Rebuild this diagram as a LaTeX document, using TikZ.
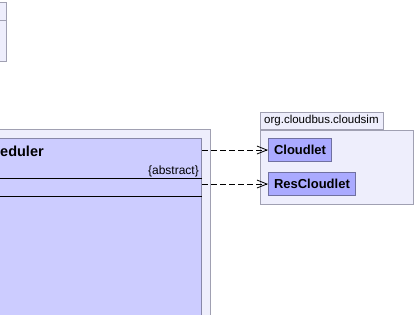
\documentclass[tikz,border=0pt]{standalone}
\usepackage{fontspec}
\setmainfont{Liberation Sans}
\usetikzlibrary{arrows.meta}

\definecolor{pkgfill}{HTML}{EEEEFC}
\definecolor{pkgline}{HTML}{A0A0B2}
\definecolor{clsfill}{HTML}{CCCCFF}
\definecolor{clsline}{HTML}{8888A8}
\definecolor{reffill}{HTML}{AAAAFF}
\definecolor{refline}{HTML}{7070A0}

\tikzset{
  pkg/.style={draw=pkgline, fill=pkgfill, line width=1pt, inner sep=0pt},
  cls/.style={draw=clsline, fill=clsfill, line width=1pt, inner sep=0pt},
  ref/.style={draw=refline, fill=reffill, line width=1pt, inner xsep=5.5pt, inner ysep=0pt,
    minimum height=23, anchor=north west, font=\bfseries\fontsize{13}{15}\selectfont},
  dep/.style={black, line width=0.8pt, dash pattern=on 6pt off 3pt,
    -{Straight Barb[length=10pt,width=8pt,line width=0.8pt]}}
}

\begin{document}
\begin{tikzpicture}[x=1pt,y=-1pt]
\useasboundingbox (0,0) rectangle (415,314);

\coordinate (A) at (7,2);
\coordinate (B) at (210.5,129);
\coordinate (C) at (202,138);
\coordinate (D) at (260,112);

\node at (A) [pkg, anchor=north east, minimum width=40, minimum height=59] (topcls) {};
\draw[pkgline, line width=1pt] (topcls.west |- 0,20) -- (topcls.east |- 0,20);

\node at (B) [pkg, anchor=north east, minimum width=240, minimum height=200] (schedpkg) {};
\node at (C) [cls, anchor=north east, minimum width=230, minimum height=190] (sched) {};
\node at (0,156) [anchor=base west, inner sep=0pt, font=\bfseries\fontsize{14.5}{17}\selectfont] {eduler};
\node at (199,174.5) [anchor=base east, inner sep=0pt, font=\fontsize{12}{14}\selectfont] {\{abstract\}};
\draw[black, line width=1pt] (sched.west |- 0,178) -- (sched.east |- 0,178);
\draw[black, line width=1pt] (sched.west |- 0,196) -- (sched.east |- 0,196);

\node at (D) [pkg, anchor=north west, minimum width=123, minimum height=17] (tab) {};
\node at (264,123.5) [anchor=base west, inner sep=0pt, font=\fontsize{11.5}{13}\selectfont] {org.cloudbus.cloudsim};
\node at (tab.south west) [pkg, anchor=north west, minimum width=153, minimum height=74] (cloudsim) {};

\node at (268,138) [ref] (cloudlet) {Cloudlet};
\node at (268,172) [ref] (rescloudlet) {ResCloudlet};

\draw[dep] (sched.east |- cloudlet.west) -- (cloudlet.west);
\draw[dep] (sched.east |- rescloudlet.west) -- (rescloudlet.west);

\end{tikzpicture}
\end{document}
